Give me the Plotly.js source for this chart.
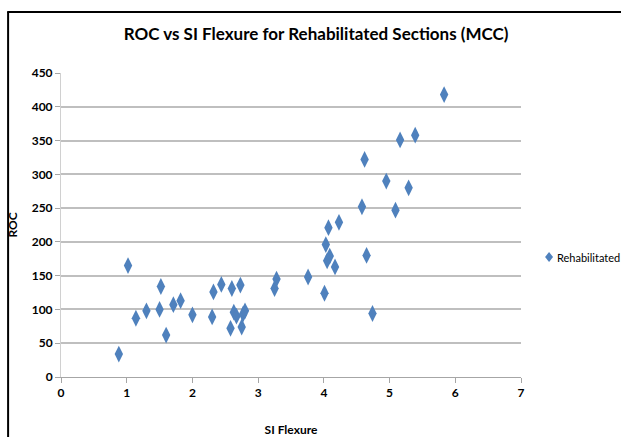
<!DOCTYPE html>
<html>
<head>
<meta charset="utf-8">
<script src="https://cdn.plot.ly/plotly-3.0.1.min.js"></script>
<style>html,body{margin:0;padding:0;background:#fff;}#chart{width:621px;height:437px;}</style>
</head>
<body>
<div id="chart"></div>
<script>
var siFlexure = [0.88,1.02,1.14,1.30,1.50,1.52,1.60,1.71,1.82,2.00,2.30,2.32,2.44,2.58,2.60,2.63,2.67,2.73,2.75,2.77,2.80,3.25,3.28,3.76,4.01,4.03,4.05,4.07,4.09,4.17,4.23,4.58,4.62,4.65,4.74,4.95,5.09,5.16,5.29,5.39,5.83];
var roc = [34,165,87,98,100,134,62,107,113,92,89,126,137,72,131,96,90,136,74,93,98,131,145,148,124,196,172,221,179,163,229,252,322,180,94,290,247,351,280,358,418];
var seriesName = "Rehabilitated";
var chartTitle = "ROC vs SI Flexure for Rehabilitated Sections (MCC)";
var xTitle = "SI Flexure";
var yTitle = "ROC";

var font = "Lato, 'Open Sans', sans-serif";
var blue = "#4F81BD";

var trace = {
  x: siFlexure, y: roc, type: "scatter", mode: "markers", name: seriesName,
  marker: {symbol: "diamond-tall", size: 12, color: blue}
};

var layout = {
  width: 621, height: 437,
  margin: {l: 61, r: 100, t: 73, b: 60},
  paper_bgcolor: "#fff", plot_bgcolor: "#fff",
  font: {family: font, color: "#000"},
  title: {text: "<b>" + chartTitle + "</b>", font: {family: font, size: 17, color: "#000"}, x: 0.509, xanchor: "center", y: 0.922, yanchor: "middle"},
  xaxis: {
    range: [0, 7], dtick: 1, tick0: 0, showgrid: false, zeroline: false,
    showline: true, linecolor: "#a6a6a6", linewidth: 1,
    ticks: "outside", ticklen: 5, tickcolor: "#a6a6a6",
    tickfont: {family: font, size: 12, color: "#000", weight: "bold"},
    title: {text: "<b>" + xTitle + "</b>", font: {family: font, size: 12, color: "#000"}, standoff: 26}
  },
  yaxis: {
    range: [0, 450], dtick: 50, tick0: 0, showgrid: true, gridcolor: "#bfbfbf", gridwidth: 2,
    zeroline: false, showline: true, linecolor: "#d0d0d0", linewidth: 1,
    ticks: "outside", ticklen: 5, tickcolor: "#a6a6a6",
    tickfont: {family: font, size: 12, color: "#000", weight: "bold"},
    title: {text: "<b>" + yTitle + "</b>", font: {family: font, size: 12, color: "#000"}, standoff: 11}
  },
  showlegend: false,
  annotations: [
    {xref: "paper", yref: "paper", x: 1.074, y: 0.3947, xanchor: "left", yanchor: "middle", showarrow: false,
     text: seriesName, font: {family: font, size: 11, color: "#000"}}
  ],
  shapes: [
    {type: "line", xref: "paper", yref: "paper", x0: -0.115, x1: -0.115, y0: 1.2007, y1: -0.25, line: {color: "#000", width: 2}},
    {type: "line", xref: "paper", yref: "paper", x0: -0.117, x1: 1.3, y0: 1.2007, y1: 1.2007, line: {color: "#000", width: 2}},
    {type: "path", xref: "paper", yref: "paper", xsizemode: "pixel", ysizemode: "pixel", xanchor: 1.061, yanchor: 0.3947,
     path: "M0,-5 L4,0 L0,5 L-4,0 Z", fillcolor: blue, line: {width: 0}}
  ]
};

Plotly.newPlot("chart", [trace], layout, {displayModeBar: false, staticPlot: true});
</script>
</body>
</html>
